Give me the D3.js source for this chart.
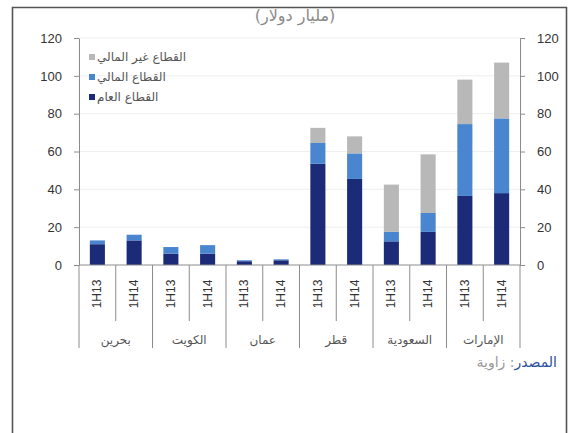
<!DOCTYPE html>
<html>
<head>
<meta charset="utf-8">
<script src="https://cdn.jsdelivr.net/npm/d3@7"></script>
<style>
body { margin: 0; background: #fff; }
svg { display: block; }
text { font-family: "Liberation Sans", Arial, sans-serif; }
.ar { font-family: "DejaVu Sans", sans-serif; }
</style>
</head>
<body>
<svg id="chart" width="572" height="433"></svg>
<script>
// data
var countries = ["بحرين", "الكويت", "عمان", "قطر", "السعودية", "الإمارات"];
var periods = ["1H13", "1H14"];
var publicSector = [11, 13, 6, 6, 2, 2.5, 53.5, 45.5, 12.5, 17.5, 36.5, 38];
var financialSector = [2, 3, 3.5, 4.5, 0.5, 0.5, 11, 13.5, 5, 10, 38, 39.5];
var nonFinancialSector = [0, 0, 0, 0, 0, 0, 8, 9, 25, 31, 23.5, 29.5];
var seriesNames = ["القطاع العام", "القطاع المالي", "القطاع غير المالي"];
var seriesColors = ["#1c2b78", "#4a86cf", "#b8b8b8"];
var yTicks = [0, 20, 40, 60, 80, 100, 120];

var svg = d3.select("#chart");
var plotLeft = 79, plotRight = 520, plotTop = 38, plotBottom = 265;

// frame
svg.append("path")
    .attr("d", "M12.5,440 V7.5 H566.5 V440")
    .attr("fill", "none").attr("stroke", "#555").attr("stroke-width", 1.6);

// title (cut by the frame)
svg.append("text").attr("class", "ar")
    .attr("x", 295).attr("y", 21)
    .attr("text-anchor", "middle")
    .attr("font-size", 16).attr("fill", "#8a8a8a")
    .text("(مليار دولار)");

var bars = [];
countries.forEach(function(c, i) {
    periods.forEach(function(p, j) {
        var k = i*2 + j;
        bars.push({country: c, period: p, idx: k,
                   vals: [publicSector[k], financialSector[k], nonFinancialSector[k]]});
    });
});

var x = d3.scaleBand().domain(bars.map(function(d) { return d.idx; }))
    .range([plotLeft, plotRight]).paddingInner(0.59).paddingOuter(0.295);
var y = d3.scaleLinear().domain([0, 120]).range([plotBottom, plotTop]);

// grid
svg.append("g").selectAll("line").data(yTicks.slice(1))
    .enter().append("line")
    .attr("x1", plotLeft).attr("x2", plotRight)
    .attr("y1", function(d) { return y(d); })
    .attr("y2", function(d) { return y(d); })
    .attr("stroke", "#eeeeee").attr("stroke-width", 1);

// stacked bars
var stack = d3.stack().keys([0, 1, 2]).value(function(d, key) { return d.vals[key]; });
var layers = stack(bars);
svg.append("g").selectAll("g").data(layers)
    .enter().append("g")
    .attr("fill", function(d, i) { return seriesColors[i]; })
    .selectAll("rect").data(function(d) { return d; })
    .enter().append("rect")
    .attr("x", function(d) { return x(d.data.idx); })
    .attr("width", x.bandwidth())
    .attr("y", function(d) { return y(d[1]); })
    .attr("height", function(d) { return y(d[0]) - y(d[1]); });

// axes
var axisL = svg.append("g").attr("transform", "translate(" + plotLeft + ",0)")
    .call(d3.axisLeft(y).tickValues(yTicks).tickSize(5).tickSizeOuter(0).tickPadding(12));
var axisR = svg.append("g").attr("transform", "translate(" + plotRight + ",0)")
    .call(d3.axisRight(y).tickValues(yTicks).tickSize(5).tickSizeOuter(0).tickPadding(12));
[axisL, axisR].forEach(function(a) {
    a.select(".domain").attr("stroke", "#8c8c8c");
    a.selectAll(".tick line").attr("stroke", "#8c8c8c");
    a.selectAll(".tick text").attr("font-size", 13).attr("fill", "#333")
        .attr("font-family", "Liberation Sans, Arial, sans-serif");
});

// category axis
svg.append("line").attr("x1", plotLeft).attr("x2", plotRight)
    .attr("y1", plotBottom).attr("y2", plotBottom)
    .attr("stroke", "#8c8c8c");
var step = x.step();
svg.append("g").selectAll("line").data(d3.range(13))
    .enter().append("line")
    .attr("x1", function(k) { return plotLeft + k*step; })
    .attr("x2", function(k) { return plotLeft + k*step; })
    .attr("y1", plotBottom)
    .attr("y2", function(k) { return k % 2 === 0 ? 348 : 321; })
    .attr("stroke", "#8c8c8c");

svg.append("g").selectAll("text").data(bars)
    .enter().append("text")
    .attr("transform", function(d) {
        return "translate(" + (x(d.idx) + x.bandwidth()/2 + 4) + ",294) rotate(-90)";
    })
    .attr("text-anchor", "middle")
    .attr("font-size", 12).attr("fill", "#333")
    .text(function(d) { return d.period; });

svg.append("g").selectAll("text").data(countries)
    .enter().append("text").attr("class", "ar")
    .attr("x", function(d, i) { return plotLeft + (2*i + 1)*step; })
    .attr("y", 344)
    .attr("text-anchor", "middle")
    .attr("font-size", 12).attr("fill", "#555")
    .text(function(d) { return d; });

// legend
var legend = svg.append("g");
[2, 1, 0].forEach(function(s, r) {
    var ly = 57 + r*20;
    legend.append("rect").attr("x", 89).attr("y", ly - 3)
        .attr("width", 6).attr("height", 6).attr("fill", seriesColors[s]);
    legend.append("text").attr("class", "ar")
        .attr("x", 97).attr("y", ly + 4)
        .attr("font-size", 12).attr("fill", "#555")
        .text(seriesNames[s]);
});

// source
var src = svg.append("text").attr("class", "ar")
    .attr("x", 557).attr("y", 367)
    .attr("text-anchor", "start").attr("direction", "rtl")
    .attr("font-size", 14);
src.append("tspan").attr("fill", "#2a4f9c").text("المصدر");
src.append("tspan").attr("fill", "#999").text(": زاوية");
</script>
</body>
</html>
